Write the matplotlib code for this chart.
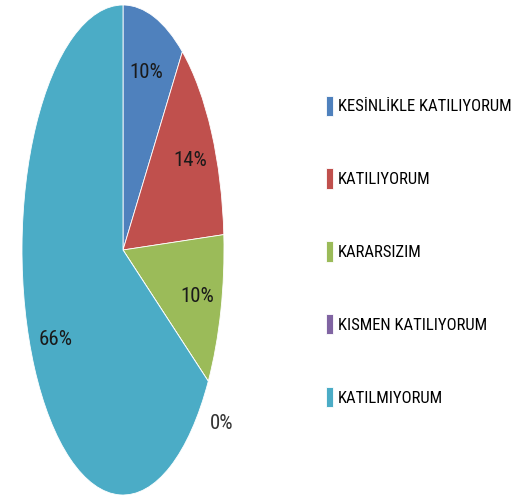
import matplotlib
matplotlib.use("Agg")
import numpy as np
import matplotlib.pyplot as plt
from matplotlib import font_manager

categories = ["KESİNLİKLE KATILIYORUM", "KATILIYORUM", "KARARSIZIM",
              "KISMEN KATILIYORUM", "KATILMIYORUM"]
values = [10, 14, 10, 0, 66]
colors = ["#4F81BD", "#C0504D", "#9BBB59", "#8064A2", "#4BACC6"]

avail = {f.name for f in font_manager.fontManager.ttflist}
cands = ["Liberation Sans Narrow", "Roboto Condensed", "Open Sans Condensed",
         "Noto Sans Condensed", "DejaVu Sans"]
fam = next(c for c in cands if c in avail)
plt.rcParams['font.family'] = [fam, 'DejaVu Sans']
plt.rcParams['font.stretch'] = 'condensed'

fig = plt.figure(figsize=(5.21, 5.0), dpi=100)
ax = fig.add_axes([22/521, 5/500, 202/521, 490/500])
wedges, texts, autotexts = ax.pie(
    values, colors=colors, startangle=90, counterclock=False,
    autopct=lambda p: f"{p:.0f}%", pctdistance=0.76,
    wedgeprops=dict(linewidth=0.6, edgecolor="white"),
    textprops=dict(fontsize=15, color="#1a1a1a"))
ax.set_aspect('auto')
ax.set_xlim(-1, 1)
ax.set_ylim(-1, 1)
ax.axis('off')

# zero-valued slice: place its label outside the pie
for w, t, v in zip(wedges, autotexts, values):
    if v == 0:
        ang = np.deg2rad(w.theta1)
        t.set_position((1.16 * np.cos(ang), 1.32 * np.sin(ang)))
        t.set_color("#333333")

fig.legend(wedges, categories, loc="upper left",
           bbox_to_anchor=(319/521, 1 - 89/500), frameon=False,
           fontsize=12, handlelength=0.42, handleheight=1.5,
           handletextpad=0.3, labelspacing=3.15, borderaxespad=0)

fig.savefig("out.png", dpi=100)
